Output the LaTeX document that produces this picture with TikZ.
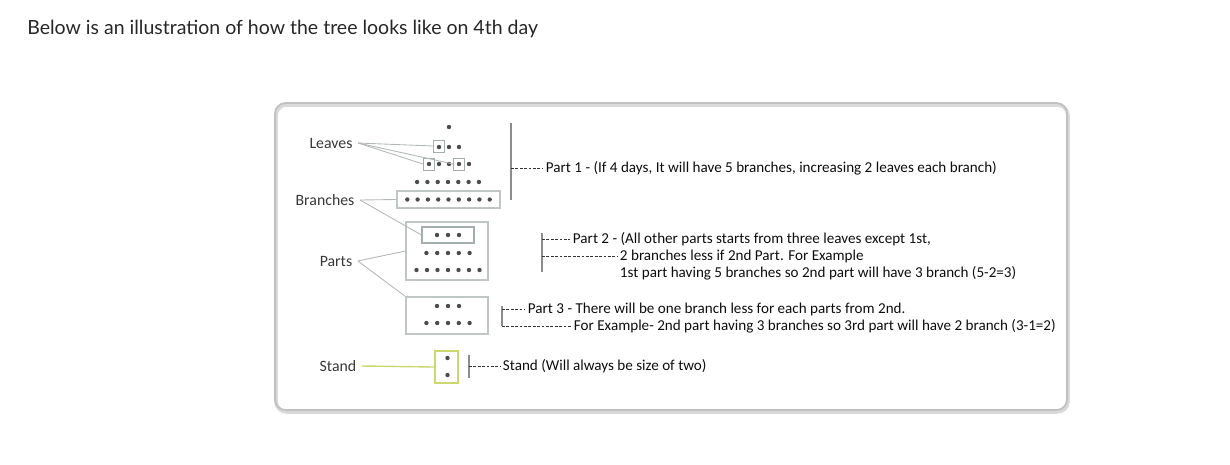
\documentclass[tikz,border=0pt]{standalone}
\usepackage{fontspec}
\setmainfont{Carlito}
\newfontfamily\titlefont{Lato}
\usepackage{xcolor}
\usetikzlibrary{positioning,calc}

\definecolor{framegray}{RGB}{192,192,192}
\definecolor{linegray}{RGB}{178,184,184}
\definecolor{boxgray}{RGB}{165,174,174}
\definecolor{standgreen}{RGB}{202,216,110}
\definecolor{inkgray}{RGB}{55,55,55}

% one row of leaves: y, centre x, number of leaves, spacing
\newcommand{\leafrow}[4]{%
  \foreach \k in {1,...,#3}
    \fill[leafdot] ({#2+(\k-(#3+1)/2)*#4},#1) circle[radius=1.25pt];
}

\begin{document}
\begin{tikzpicture}[x=0.02cm, y=-0.02cm,
        title/.style={font=\titlefont\fontsize{11.1}{12}\selectfont, text=black!85, anchor=west, inner sep=0pt},
        label/.style={font=\fontsize{9}{10}\selectfont, text=inkgray, inner sep=3pt},
        note/.style={font=\fontsize{8.6}{10}\selectfont, text=black!95, anchor=west, inner xsep=1.5pt, inner ysep=0pt},
        leafdot/.style={fill=black!70},
        leafbox/.style={rectangle, draw=boxgray, line width=0.5pt, minimum width=0.22cm, minimum height=0.24cm, inner sep=0pt},
        partbox/.style={rectangle, draw=boxgray!70, line width=0.6pt, inner sep=0pt},
        pointer/.style={draw=linegray, line width=0.5pt},
        bar/.style={draw=black!45, line width=0.6pt},
        dashline/.style={draw=black!80, line width=0.5pt, dash pattern=on 1.6pt off 0.9pt},
      ]
      \useasboundingbox (0,0) rectangle (1230,464);
      \node [title] (heading) at (27,29) {Below is an illustration of how the tree looks like on 4th day};

      % frame
      \draw [framegray!60, line width=2pt, rounded corners=6pt] (276,105) rectangle (1068,412);
      \draw [framegray, line width=1pt, rounded corners=6pt] (275,103) rectangle (1067,410);

      % Labels
      \node [label] (leaves) at (331,143) {Leaves};
      \node [label] (branches) at (325,200) {Branches};
      \node [label] (parts) at (336,261) {Parts};
      \node [label] (stand) at (338,366) {Stand};

      % Part 1
      \leafrow{127}{449}{1}{10}
      \leafrow{147}{449}{3}{10}
      \leafrow{164}{449}{5}{10}
      \leafrow{182}{448}{7}{10.3}
      \leafrow{199.5}{448.5}{9}{10.3}
      \node [leafbox] (leafA) at (439,146) {};
      \node [leafbox] (leafB) at (429,164) {};
      \node [leafbox] (leafC) at (459,164) {};
      \node [partbox, minimum width=2.06cm, minimum height=0.34cm] (branchbox) at (448.5,199.5) {};

      % Part 2
      \node [partbox, minimum width=1.64cm, minimum height=1.16cm] (parttwo) at (447,251) {};
      \node [partbox, draw=boxgray, minimum width=1.04cm, minimum height=0.32cm] (topbranch) at (448,235) {};
      \leafrow{235}{448}{3}{11}
      \leafrow{253}{448}{5}{10.8}
      \leafrow{270}{448}{7}{10.5}

      % Part 3
      \node [partbox, minimum width=1.64cm, minimum height=0.74cm] (partthree) at (447,315.5) {};
      \leafrow{306}{448}{3}{11}
      \leafrow{323}{448}{5}{10.8}

      % Stand
      \node [partbox, draw=standgreen, line width=0.8pt, minimum width=0.46cm, minimum height=0.64cm] (standbox) at (446.5,367) {};
      \fill [leafdot] (447.5,358) circle[radius=1.25pt];
      \fill [leafdot] (447.5,375) circle[radius=1.25pt];

      % pointers from labels
      \draw [pointer] (leaves.east) -- (leafA.west);
      \draw [pointer] (leaves.east) -- (leafB.west);
      \draw [pointer] (leaves.east) -- (leafC.west);
      \draw [pointer] (branches.east) -- (branchbox.west);
      \draw [pointer] (branches.east) -- (topbranch.west);
      \draw [pointer] (parts.east) -- (parttwo.west);
      \draw [pointer] (parts.east) -- (partthree.north west);
      \draw [pointer, draw=standgreen, line width=0.8pt] (stand.east) -- (standbox.west);

      % notes
      \node [note] (noteone) at (543,168) {Part 1 - (If 4 days, It will have 5 branches, increasing 2 leaves each branch)};
      \coordinate (onetop) at (511,123);
      \coordinate (onebot) at (511,200);
      \draw [bar] (onetop) -- (onebot);
      \draw [dashline] (onetop |- noteone.west) -- (noteone.west);

      \node [note] (notetwoa) at (570,239) {Part 2 - (All other parts starts from three leaves except 1st,};
      \node [note] (notetwob) at (617,256) {2 branches less if 2nd Part. For Example};
      \node [note] (notetwoc) at (617,273) {1st part having 5 branches so 2nd part will have 3 branch (5-2=3)};
      \coordinate (twotop) at (542,233);
      \coordinate (twobot) at (542,272);
      \draw [bar] (twotop) -- (twobot);
      \draw [dashline] (twotop |- notetwoa.west) -- (notetwoa.west);
      \draw [dashline] (twotop |- notetwob.west) -- (notetwob.west);

      \node [note] (notethreea) at (525,309) {Part 3 - There will be one branch less for each parts from 2nd.};
      \node [note] (notethreeb) at (571,326) {For Example- 2nd part having 3 branches so 3rd part will have 2 branch (3-1=2)};
      \coordinate (threetop) at (502,306);
      \coordinate (threebot) at (502,326);
      \draw [bar] (threetop) -- (threebot);
      \draw [dashline] (threetop |- notethreea.west) -- (notethreea.west);
      \draw [dashline] (threebot) -- (notethreeb.west);

      \node [note] (notestand) at (500,366) {Stand (Will always be size of two)};
      \coordinate (standtop) at (469,355);
      \coordinate (standbot) at (469,378);
      \draw [bar] (standtop) -- (standbot);
      \draw [dashline] (standtop |- notestand.west) -- (notestand.west);
    \end{tikzpicture}
\end{document}
